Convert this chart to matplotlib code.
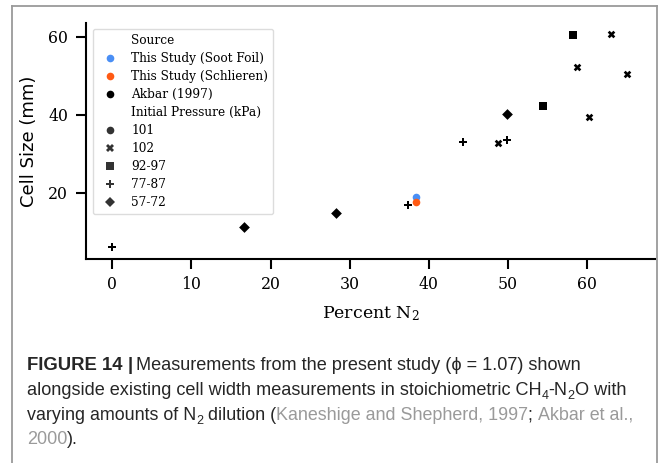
"""Cell size vs. percent N2, with the figure caption underneath."""

import matplotlib
matplotlib.use("Agg")
import matplotlib.pyplot as plt
from matplotlib.lines import Line2D

# --- data ------------------------------------------------------------------
pct_n2 = [38.4, 38.4, 0.0, 16.6, 28.3, 37.4, 44.3, 48.7, 49.9, 49.9,
          54.5, 58.2, 58.7, 60.3, 63.0, 65.0]
cell_size = [18.9, 17.6, 6.1, 11.2, 14.8, 16.9, 33.0, 32.7, 33.6, 40.2,
             42.1, 60.3, 52.1, 39.3, 60.8, 50.3]
source = ["This Study (Soot Foil)", "This Study (Schlieren)"] + ["Akbar (1997)"] * 14
pressure = ["101", "101", "77-87", "57-72", "57-72", "77-87", "77-87", "102",
            "77-87", "57-72", "92-97", "92-97", "102", "102", "102", "102"]

source_order = ["This Study (Soot Foil)", "This Study (Schlieren)", "Akbar (1997)"]
pressure_order = ["101", "102", "92-97", "77-87", "57-72"]

source_colors = {"This Study (Soot Foil)": "#4a8ff5",
                 "This Study (Schlieren)": "#ff5a14",
                 "Akbar (1997)": "black"}
pressure_markers = {"101": "o", "102": "X", "92-97": "s", "77-87": "P", "57-72": "D"}

W, H = 664, 463
fig = plt.figure(figsize=(W / 100, H / 100), dpi=100)


def px(x, y):
    return x / W, 1 - y / H


ax = fig.add_axes([86 / W, 1 - 259 / H, (655 - 86) / W, (259 - 23) / H])

for x, y, src, pr in zip(pct_n2, cell_size, source, pressure):
    ax.scatter(x, y, s=30, color=source_colors[src], marker=pressure_markers[pr],
               linewidths=0, zorder=3)

ax.set_xlim(-3.33, 68.6)
ax.set_ylim(3.0, 63.5)
ax.set_xticks([0, 10, 20, 30, 40, 50, 60])
ax.set_yticks([20, 40, 60])
for side in ("top", "right"):
    ax.spines[side].set_visible(False)
for side in ("left", "bottom"):
    ax.spines[side].set_linewidth(1.5)
ax.tick_params(length=7, width=1.5, labelsize=11.3)
ax.tick_params(axis="x", pad=5.5)
ax.tick_params(axis="y", pad=6)
for lab in ax.get_xticklabels() + ax.get_yticklabels():
    lab.set_fontfamily("DejaVu Serif")

ax.set_xlabel(r"Percent N$_2$", fontsize=12.5, fontfamily="DejaVu Serif",
              math_fontfamily="dejavuserif", labelpad=8)
ax.set_ylabel("Cell Size (mm)", fontsize=13, fontfamily="DejaVu Sans", labelpad=7)

# seaborn-like legend with sub-headings
handles, labels = [], []
handles.append(Line2D([], [], linestyle="none", marker=""))
labels.append("Source")
for src in source_order:
    handles.append(Line2D([], [], linestyle="none", marker="o", markersize=5.5,
                          color=source_colors[src], markeredgewidth=0))
    labels.append(src)
handles.append(Line2D([], [], linestyle="none", marker=""))
labels.append("Initial Pressure (kPa)")
for pr in pressure_order:
    handles.append(Line2D([], [], linestyle="none", marker=pressure_markers[pr],
                          markersize=5.5, color="0.2", markeredgewidth=0))
    labels.append(pr)
ax.legend(handles, labels, loc="upper left", bbox_to_anchor=(0.012, 0.975),
          borderaxespad=0, frameon=True, edgecolor="0.85", framealpha=0.9,
          labelspacing=0.42, prop={"family": "DejaVu Serif", "size": 8.7})

# outer frame of the figure panel
frame_kw = dict(color="#9a9a9a", linewidth=1.3)
fig.add_artist(Line2D([px(12, 6)[0], px(657, 6)[0]], [px(12, 6)[1]] * 2, **frame_kw))
fig.add_artist(Line2D([px(12, 6)[0]] * 2, [px(12, 6)[1], 0], **frame_kw))
fig.add_artist(Line2D([px(657, 6)[0]] * 2, [px(657, 6)[1], 0], **frame_kw))

# caption lines: (baseline px, font size, runs)
# run = (text, colour, bold, subscript, absolute x or None)
cap_font = ["Liberation Sans", "DejaVu Sans"]
dark, grey = "#262626", "#9a9a9a"
caption = [
    (370, 13.1, [("FIGURE 14", dark, True, False, 27), ("|", dark, True, False, 128),
                 ("Measurements from the present study (ϕ = 1.07) shown",
                  dark, False, False, 136)]),
    (395, 13.05, [("alongside existing cell width measurements in stoichiometric CH",
                   dark, False, False, 27),
                  ("4", dark, False, True, None), ("-N", dark, False, False, None),
                  ("2", dark, False, True, None), ("O with", dark, False, False, None)]),
    (420, 12.85, [("varying amounts of N", dark, False, False, 27),
                  ("2", dark, False, True, None),
                  (" dilution (", dark, False, False, None),
                  ("Kaneshige and Shepherd, 1997", grey, False, False, None),
                  ("; ", dark, False, False, None),
                  ("Akbar et al.,", grey, False, False, None)]),
    (444, 13.0, [("2000", grey, False, False, 27), (").", dark, False, False, None)]),
]
renderer = fig.canvas.get_renderer()
for y, size, runs in caption:
    x = 27
    for text, color, bold, sub, x_abs in runs:
        if x_abs is not None:
            x = x_abs
        fs = size * 0.7 if sub else (size * 1.02 if bold else size)
        t = fig.text(*px(x, y + (4 if sub else 0)), text, fontsize=fs,
                     family=cap_font, color=color,
                     fontweight="bold" if bold else "normal",
                     va="baseline", ha="left")
        x = t.get_window_extent(renderer).x1

fig.savefig("out.png", dpi=100)
